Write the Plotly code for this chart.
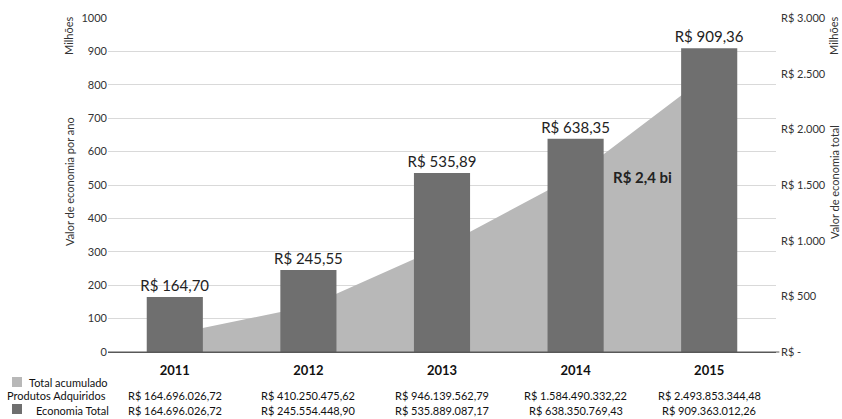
import plotly.graph_objects as go

# Data (values in reais)
years = ["2011", "2012", "2013", "2014", "2015"]
total_acumulado = [164696026.72, 410250475.62, 946139562.79, 1584490332.22, 2493853344.48]
economia_total = [164696026.72, 245554448.90, 535889087.17, 638350769.43, 909363012.26]

left_ticks = [0, 100, 200, 300, 400, 500, 600, 700, 800, 900, 1000]
right_ticks = [0, 500, 1000, 1500, 2000, 2500, 3000]
right_tick_labels = ["R$ -", "R$ 500", "R$ 1.000", "R$ 1.500", "R$ 2.000", "R$ 2.500", "R$ 3.000"]
highlight_text = "R$ 2,4 bi"

FONT = "Lato"
DARK = "#6f6f6f"
LIGHT = "#b8b8b8"
TXT = "#333333"


def brl(v, dec=2):
    s = f"{v:,.{dec}f}"
    return "R$ " + s.replace(",", "X").replace(".", ",").replace("X", ".")


econ_mi = [v / 1e6 for v in economia_total]
acum_mi = [v / 1e6 for v in total_acumulado]
pos = list(range(len(years)))

fig = go.Figure()

# Accumulated total (area) on the right-hand axis, drawn underneath
fig.add_trace(go.Scatter(
    x=pos, y=acum_mi, mode="lines", fill="tozeroy",
    line=dict(width=0, color=LIGHT), fillcolor=LIGHT,
    xaxis="x", yaxis="y", hoverinfo="skip", showlegend=False,
))

# Yearly savings (bars) on the left-hand axis, overlaid on top
fig.add_trace(go.Bar(
    x=pos, y=econ_mi, xaxis="x", yaxis="y2",
    marker=dict(color=DARK, line=dict(width=0)),
    width=0.42, text=[brl(v) for v in econ_mi], textposition="outside",
    constraintext="none",
    textfont=dict(family=FONT, size=15, color="#222222"), cliponaxis=False,
    showlegend=False,
))

fig.update_layout(
    width=842, height=419,
    margin=dict(l=108, r=66, t=18, b=67),
    paper_bgcolor="white", plot_bgcolor="white",
    font=dict(family=FONT, color=TXT),
    xaxis=dict(
        range=[-0.5, 4.5], showgrid=False, showline=False, zeroline=False,
        tickvals=pos, ticktext=years,
        tickfont=dict(family=FONT, size=13, color="#111111", weight="bold"),
        ticks="", ticklabelstandoff=9,
    ),
    yaxis=dict(
        range=[0, 3000], side="right", showgrid=False, zeroline=False,
        tickvals=right_ticks, ticktext=right_tick_labels,
        tickfont=dict(family=FONT, size=11, color=TXT), ticks="",
        ticklabelstandoff=4,
    ),
    yaxis2=dict(
        range=[0, 1000], side="left", overlaying="y", showgrid=True,
        gridcolor="#d9d9d9", gridwidth=1, tickvals=left_ticks,
        tickfont=dict(family=FONT, size=11, color=TXT), ticks="",
        zeroline=True, zerolinecolor="#595959", zerolinewidth=1,
    ),
)

# Extend the zero line into the right-axis tick area
fig.add_shape(type="line", xref="paper", yref="paper", x0=0, x1=1.005, y0=0, y1=0,
              line=dict(color="#595959", width=1))


def px_x(px):
    return (px - 108) / 668


def px_y(py):
    return (352 - py) / 334


ann = []
# Highlight of accumulated total
ann.append(dict(x=3.5, y=525, xref="x", yref="y2", text=f"<b>{highlight_text}</b>",
                showarrow=False, font=dict(family=FONT, size=15, color="#222222")))

# Axis titles
title_font = dict(family=FONT, size=11, color=TXT)
for xp, yp, txt in [(69, 182, "Valor de economia por ano"), (69, 36, "Milhões"),
                    (834, 182, "Valor de economia total"), (834, 36, "Milhões")]:
    ann.append(dict(x=px_x(xp), y=px_y(yp), xref="paper", yref="paper", text=txt,
                    textangle=-90, xanchor="center", yanchor="middle",
                    showarrow=False, font=title_font))

# Data table below the chart
tbl_font = dict(family=FONT, size=11, color="#111111")
ann.append(dict(x=px_x(27), y=px_y(382), xref="paper", yref="paper", text="Total acumulado",
                xanchor="left", yanchor="middle", showarrow=False, font=tbl_font))
ann.append(dict(x=px_x(5), y=px_y(395), xref="paper", yref="paper", text="Produtos Adquiridos",
                xanchor="left", yanchor="middle", showarrow=False, font=tbl_font))
ann.append(dict(x=px_x(34), y=px_y(410), xref="paper", yref="paper", text="Economia Total",
                xanchor="left", yanchor="middle", showarrow=False, font=tbl_font))
for i, (a, e) in enumerate(zip(total_acumulado, economia_total)):
    ann.append(dict(x=i, y=px_y(395), xref="x", yref="paper", text=brl(a), showarrow=False,
                    yanchor="middle", font=tbl_font))
    ann.append(dict(x=i, y=px_y(410), xref="x", yref="paper", text=brl(e), showarrow=False,
                    yanchor="middle", font=tbl_font))
fig.update_layout(annotations=ann)

# Legend swatches for the table rows
fig.add_shape(type="rect", xref="paper", yref="paper", x0=px_x(12), x1=px_x(22),
              y0=px_y(387), y1=px_y(377), fillcolor=LIGHT, line=dict(width=0))
fig.add_shape(type="rect", xref="paper", yref="paper", x0=px_x(12), x1=px_x(22),
              y0=px_y(414), y1=px_y(404), fillcolor=DARK, line=dict(width=0))

fig.write_html("out.html")
